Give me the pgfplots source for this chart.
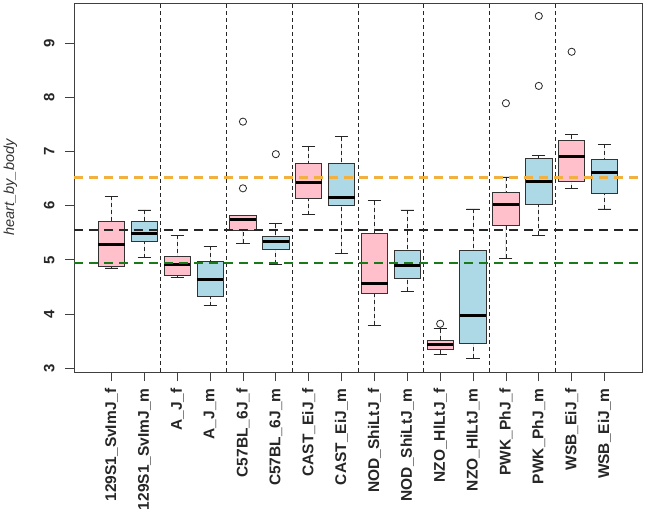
\documentclass[border=0pt]{standalone}
\usepackage{fontspec}
\setmainfont{Liberation Sans}
\usepackage{pgfplots}
\pgfplotsset{compat=1.18}
\usepgfplotslibrary{statistics}
\definecolor{bpink}{HTML}{FFC0CB}
\definecolor{bblue}{HTML}{ADD8E6}
\definecolor{rorange}{HTML}{F2B03E}
\definecolor{rgreen}{HTML}{1A7A1A}
\pgfplotsset{
  rbox/.style={
    boxplot prepared={draw direction=y, box extend=0.8, whisker extend=0.4, #1},
    draw=black!80, line width=0.8pt,
    mark=o, mark options={solid, black!85, line width=0.8pt}, mark size=3.6pt,
  },
  boxplot/every median/.style={line width=3pt, black},
  boxplot/draw/lower whisker/.code={%
    \draw[black!85, line width=0.8pt, dash pattern=on 4pt off 3pt]
      (boxplot box cs:\pgfplotsboxplotvalue{lower whisker},0.5) --
      (boxplot box cs:\pgfplotsboxplotvalue{lower quartile},0.5);
    \draw[black!85, line width=0.8pt]
      (boxplot box cs:\pgfplotsboxplotvalue{lower whisker},0.25) --
      (boxplot box cs:\pgfplotsboxplotvalue{lower whisker},0.75);
  },
  boxplot/draw/upper whisker/.code={%
    \draw[black!85, line width=0.8pt, dash pattern=on 4pt off 3pt]
      (boxplot box cs:\pgfplotsboxplotvalue{upper whisker},0.5) --
      (boxplot box cs:\pgfplotsboxplotvalue{upper quartile},0.5);
    \draw[black!85, line width=0.8pt]
      (boxplot box cs:\pgfplotsboxplotvalue{upper whisker},0.25) --
      (boxplot box cs:\pgfplotsboxplotvalue{upper whisker},0.75);
  },
}
\begin{document}
\begin{tikzpicture}
\begin{axis}[
  name=ax,
  scale only axis, width=568pt, height=369pt,
  xmin=-0.14, xmax=17.14, ymin=2.93, ymax=9.74,
  axis line style={black!75, line width=0.8pt},
  tick align=outside, major tick length=9pt,
  tick style={black!75, line width=0.8pt},
  xtick pos=bottom, ytick pos=left,
  xtick={1,...,16},
  xticklabels={129S1\_SvImJ\_f,129S1\_SvImJ\_m,A\_J\_f,A\_J\_m,C57BL\_6J\_f,C57BL\_6J\_m,CAST\_EiJ\_f,CAST\_EiJ\_m,NOD\_ShiLtJ\_f,NOD\_ShiLtJ\_m,NZO\_HlLtJ\_f,NZO\_HlLtJ\_m,PWK\_PhJ\_f,PWK\_PhJ\_m,WSB\_EiJ\_f,WSB\_EiJ\_m},
  xticklabel style={yshift=-4pt, rotate=90, anchor=east, font=\fontsize{15.5}{18}\selectfont\bfseries, text=black!85},
  ytick={3,4,5,6,7,8,9},
  yticklabels={3,4,5,6,7,8,9},
  yticklabel style={xshift=-7pt, rotate=90, anchor=south, font=\fontsize{15}{18}\selectfont\bfseries, text=black!85},
  ylabel={heart\_by\_body},
  ylabel style={at={(axis description cs:-0.112,0.5)}, anchor=center, font=\fontsize{14.5}{17}\selectfont\itshape, text=black!80},
  clip=false,
]
% boxes
\addplot[rbox={draw position=1, lower whisker=4.85, lower quartile=4.88, median=5.29, upper quartile=5.71, upper whisker=6.17}, fill=bpink] coordinates {};
\addplot[rbox={draw position=2, lower whisker=5.04, lower quartile=5.34, median=5.49, upper quartile=5.71, upper whisker=5.92}, fill=bblue] coordinates {};
\addplot[rbox={draw position=3, lower whisker=4.68, lower quartile=4.72, median=4.92, upper quartile=5.06, upper whisker=5.45}, fill=bpink] coordinates {};
\addplot[rbox={draw position=4, lower whisker=4.15, lower quartile=4.32, median=4.63, upper quartile=4.97, upper whisker=5.25}, fill=bblue] coordinates {};
\addplot[rbox={draw position=5, lower whisker=5.31, lower quartile=5.54, median=5.74, upper quartile=5.82, upper whisker=5.82}, fill=bpink] coordinates {(0,7.55) (0,6.32)};
\addplot[rbox={draw position=6, lower whisker=4.92, lower quartile=5.20, median=5.34, upper quartile=5.43, upper whisker=5.67}, fill=bblue] coordinates {(0,6.95)};
\addplot[rbox={draw position=7, lower whisker=5.83, lower quartile=6.14, median=6.42, upper quartile=6.78, upper whisker=7.09}, fill=bpink] coordinates {};
\addplot[rbox={draw position=8, lower whisker=5.12, lower quartile=6.00, median=6.15, upper quartile=6.78, upper whisker=7.27}, fill=bblue] coordinates {};
\addplot[rbox={draw position=9, lower whisker=3.79, lower quartile=4.38, median=4.57, upper quartile=5.49, upper whisker=6.09}, fill=bpink] coordinates {};
\addplot[rbox={draw position=10, lower whisker=4.42, lower quartile=4.66, median=4.90, upper quartile=5.18, upper whisker=5.92}, fill=bblue] coordinates {};
\addplot[rbox={draw position=11, lower whisker=3.26, lower quartile=3.34, median=3.43, upper quartile=3.51, upper whisker=3.73}, fill=bpink] coordinates {(0,3.82)};
\addplot[rbox={draw position=12, lower whisker=3.18, lower quartile=3.46, median=3.97, upper quartile=5.18, upper whisker=5.94}, fill=bblue] coordinates {};
\addplot[rbox={draw position=13, lower whisker=5.03, lower quartile=5.63, median=6.03, upper quartile=6.25, upper whisker=6.53}, fill=bpink] coordinates {(0,7.89)};
\addplot[rbox={draw position=14, lower whisker=5.45, lower quartile=6.03, median=6.44, upper quartile=6.88, upper whisker=6.93}, fill=bblue] coordinates {(0,9.50) (0,8.21)};
\addplot[rbox={draw position=15, lower whisker=6.31, lower quartile=6.45, median=6.90, upper quartile=7.20, upper whisker=7.31}, fill=bpink] coordinates {(0,8.84)};
\addplot[rbox={draw position=16, lower whisker=5.94, lower quartile=6.22, median=6.62, upper quartile=6.85, upper whisker=7.13}, fill=bblue] coordinates {};
% vertical separators
\pgfplotsinvokeforeach{2.5,4.5,6.5,8.5,10.5,12.5,14.5}{
  \addplot[black!85, line width=0.8pt, dash pattern=on 4pt off 3pt, mark=none] coordinates {(#1,2.93) (#1,9.74)};
}
% reference lines
\addplot[rorange, line width=2.2pt, dash pattern=on 9pt off 6pt, mark=none] coordinates {(-0.14,6.52) (17.14,6.52)};
\addplot[black!85, line width=2.2pt, dash pattern=on 9pt off 6pt, mark=none] coordinates {(-0.14,5.55) (17.14,5.55)};
\addplot[rgreen, line width=2.2pt, dash pattern=on 9pt off 6pt, mark=none] coordinates {(-0.14,4.94) (17.14,4.94)};
\end{axis}
\pgfresetboundingbox
\path ([shift={(-74pt,-147pt)}]ax.south west) rectangle ([shift={(4pt,3pt)}]ax.north east);
\end{tikzpicture}
\end{document}
